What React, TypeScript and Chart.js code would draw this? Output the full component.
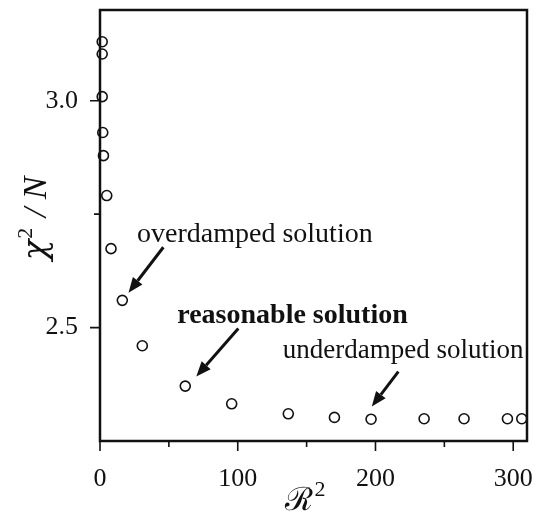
import React, { useEffect, useRef } from "react";
import { Chart, registerables } from "chart.js";

Chart.register(...registerables);

// R^2 (x) and chi^2/N (y) values
const r2Values = [1.6, 1.6, 1.6, 2.0, 2.5, 4.9, 8.0, 16.2, 30.7, 61.9, 95.6, 136.7, 170.2, 196.8, 235.3, 264.3, 295.8, 306.2];
const chiValues = [3.130, 3.103, 3.009, 2.930, 2.879, 2.791, 2.674, 2.560, 2.460, 2.371, 2.332, 2.310, 2.302, 2.298, 2.299, 2.299, 2.299, 2.299];

const xMajorTicks = [0, 100, 200, 300];
const xTickLabels = ["0", "100", "200", "300"];
const xMinorTicks = [50, 150, 250];
const yMajorTicks = [2.5, 3.0];
const yTickLabels = ["2.5", "3.0"];
const yMinorTicks = [2.75];

const xMin = 0;
const xMax = 310;
const yMin = 2.25;
const yMax = 3.2;

// annotations (data coordinates)
const annotationTexts = ["overdamped solution", "reasonable solution", "underdamped solution"];
const annotationBold = [false, true, false];
const annotationSize = [28, 28, 27];
const annotationX = [26.9, 56.1, 132.7];
const annotationY = [2.689, 2.510, 2.433];
const arrowFromX = [46.0, 100.4, 216.6];
const arrowFromY = [2.677, 2.498, 2.403];
const arrowToX = [20.7, 69.9, 197.3];
const arrowToY = [2.577, 2.392, 2.326];

const xTitleMain = "ℛ";
const xTitleSup = "2";
const yTitleMain = "χ";
const yTitleSup = "2";
const yTitleRest = " / N";

const SERIF = "'Liberation Serif', 'Times New Roman', serif";

const decorPlugin = {
  id: "decor",
  afterDraw(chart: any) {
    const { ctx, chartArea } = chart;
    const xs = chart.scales.x;
    const ys = chart.scales.y;
    const { left, top, right, bottom } = chartArea;
    ctx.save();
    ctx.strokeStyle = "#111";
    ctx.fillStyle = "#111";
    // frame
    ctx.lineWidth = 2.5;
    ctx.strokeRect(left, top, right - left, bottom - top);
    // ticks
    ctx.lineWidth = 1.6;
    ctx.beginPath();
    xMajorTicks.forEach((v) => {
      const p = xs.getPixelForValue(v);
      ctx.moveTo(p, bottom);
      ctx.lineTo(p, bottom + 10);
    });
    xMinorTicks.forEach((v) => {
      const p = xs.getPixelForValue(v);
      ctx.moveTo(p, bottom);
      ctx.lineTo(p, bottom + 6);
    });
    yMajorTicks.forEach((v) => {
      const p = ys.getPixelForValue(v);
      ctx.moveTo(left, p);
      ctx.lineTo(left - 10, p);
    });
    yMinorTicks.forEach((v) => {
      const p = ys.getPixelForValue(v);
      ctx.moveTo(left, p);
      ctx.lineTo(left - 6, p);
    });
    ctx.stroke();

    // annotations
    ctx.textAlign = "left";
    ctx.textBaseline = "alphabetic";
    annotationTexts.forEach((t, i) => {
      ctx.font = (annotationBold[i] ? "bold " : "") + annotationSize[i] + "px " + SERIF;
      ctx.fillText(t, xs.getPixelForValue(annotationX[i]), ys.getPixelForValue(annotationY[i]));
      const x1 = xs.getPixelForValue(arrowFromX[i]);
      const y1 = ys.getPixelForValue(arrowFromY[i]);
      const x2 = xs.getPixelForValue(arrowToX[i]);
      const y2 = ys.getPixelForValue(arrowToY[i]);
      const ang = Math.atan2(y2 - y1, x2 - x1);
      const headLen = 15;
      const headW = 6;
      const bx = x2 - headLen * Math.cos(ang);
      const by = y2 - headLen * Math.sin(ang);
      ctx.lineWidth = 3;
      ctx.beginPath();
      ctx.moveTo(x1, y1);
      ctx.lineTo(bx, by);
      ctx.stroke();
      ctx.beginPath();
      ctx.moveTo(x2, y2);
      ctx.lineTo(bx + headW * Math.sin(ang), by - headW * Math.cos(ang));
      ctx.lineTo(bx - headW * Math.sin(ang), by + headW * Math.cos(ang));
      ctx.closePath();
      ctx.fill();
    });

    // y axis title (rotated), composed of pieces
    const chiFont = "italic 34px 'DejaVu Serif', " + SERIF;
    const mainFont = "italic 34px " + SERIF;
    const supFont = "22px " + SERIF;
    ctx.font = chiFont;
    const wMain = ctx.measureText(yTitleMain).width;
    ctx.font = mainFont;
    const wRest = ctx.measureText(yTitleRest).width;
    ctx.font = supFont;
    const wSup = ctx.measureText(yTitleSup).width + 2;
    const total = wMain + wSup + wRest;
    ctx.save();
    ctx.translate(46, 219);
    ctx.rotate(-Math.PI / 2);
    ctx.textAlign = "left";
    ctx.textBaseline = "alphabetic";
    let cx = -total / 2;
    ctx.font = chiFont;
    ctx.fillText(yTitleMain, cx, 0);
    cx += wMain + 1;
    ctx.font = supFont;
    ctx.fillText(yTitleSup, cx, -14);
    cx += wSup;
    ctx.font = mainFont;
    ctx.fillText(yTitleRest, cx, 0);
    ctx.restore();

    // x axis title
    ctx.textAlign = "left";
    ctx.textBaseline = "alphabetic";
    const xMainFont = "32px 'DejaVu Serif', " + SERIF;
    ctx.font = xMainFont;
    const wx = ctx.measureText(xTitleMain).width;
    ctx.font = supFont;
    const wxs = ctx.measureText(xTitleSup).width;
    const startX = 305 - (wx + wxs + 2) / 2;
    ctx.font = xMainFont;
    ctx.fillText(xTitleMain, startX, bottom + 69);
    ctx.font = supFont;
    ctx.fillText(xTitleSup, startX + wx + 2, bottom + 55);
    ctx.restore();
  },
};

export default function App() {
  const ref = useRef<HTMLCanvasElement | null>(null);
  useEffect(() => {
    if (!ref.current) return;
    const data = r2Values.map((x, i) => ({ x, y: chiValues[i] }));
    const chart = new Chart(ref.current, {
      type: "scatter",
      data: {
        datasets: [
          {
            data,
            pointStyle: "circle",
            pointRadius: 5,
            pointBorderWidth: 1.6,
            borderColor: "#111",
            backgroundColor: "rgba(0,0,0,0)",
            clip: false as any,
          },
        ],
      },
      options: {
        responsive: false,
        animation: false,
        layout: { padding: { left: 0, top: 10, right: 23, bottom: 0 } },
        plugins: { legend: { display: false }, tooltip: { enabled: false } },
        scales: {
          x: {
            type: "linear",
            min: xMin,
            max: xMax,
            grid: { display: false },
            border: { display: false },
            afterFit: (s: any) => {
              s.height = 76;
              s.paddingLeft = 0;
              s.paddingRight = 0;
            },
            afterBuildTicks: (s: any) => {
              s.ticks = xMajorTicks.map((v) => ({ value: v }));
            },
            ticks: {
              padding: 15,
              color: "#111",
              font: { family: SERIF, size: 26 },
              callback: (v: any) => {
                const i = xMajorTicks.indexOf(Number(v));
                return i >= 0 ? xTickLabels[i] : "";
              },
            },
          },
          y: {
            type: "linear",
            min: yMin,
            max: yMax,
            grid: { display: false },
            border: { display: false },
            afterFit: (s: any) => {
              s.width = 100;
              s.paddingTop = 0;
              s.paddingBottom = 0;
            },
            afterBuildTicks: (s: any) => {
              s.ticks = yMajorTicks.map((v) => ({ value: v }));
            },
            ticks: {
              padding: 14,
              color: "#111",
              font: { family: SERIF, size: 26 },
              callback: (v: any) => {
                const i = yMajorTicks.findIndex((t) => Math.abs(t - Number(v)) < 1e-6);
                return i >= 0 ? yTickLabels[i] : "";
              },
            },
          },
        },
      },
      plugins: [decorPlugin],
    });
    return () => chart.destroy();
  }, []);
  return (
    <div style={{ position: "absolute", left: 0, top: 0, width: 550, height: 517, background: "#fff" }}>
      <canvas ref={ref} width={550} height={517} style={{ width: 550, height: 517 }} />
    </div>
  );
}
